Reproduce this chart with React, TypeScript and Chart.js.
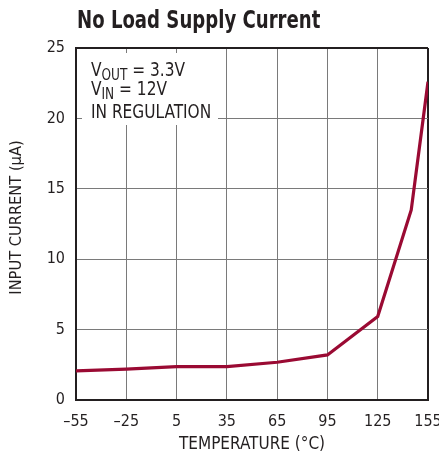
import React, { useEffect, useRef } from "react";
import { Chart, registerables } from "chart.js";

Chart.register(...registerables);

const temperatures = [-55, -25, 5, 35, 65, 95, 125, 145, 155];
const inputCurrent = [2.07, 2.19, 2.37, 2.37, 2.68, 3.2, 5.93, 13.5, 22.6];
const xTickValues = [-55, -25, 5, 35, 65, 95, 125, 155];
const yTickValues = [0, 5, 10, 15, 20, 25];

const TITLE = "No Load Supply Current";
const X_TITLE = "TEMPERATURE (°C)";
const Y_TITLE = "INPUT CURRENT (µA)";
const NOTE_LINES = [
  { main: "V", sub: "OUT", rest: " = 3.3V" },
  { main: "V", sub: "IN", rest: " = 12V" },
  { main: "IN REGULATION", sub: "", rest: "" },
];

const FONT = "'DejaVu Sans Condensed', 'Liberation Sans Narrow', sans-serif";
const TEXT = "#231f20";
const GRID = "#7a7a7a";
const LINE = "#9a0a33";

const fmt = (v: number) => (v < 0 ? "\u2013" + Math.abs(v) : String(v));

const overlayPlugin = {
  id: "overlay",
  beforeDatasetsDraw(chart: any) {
    const { ctx, chartArea } = chart;
    const ca = chartArea;
    ctx.save();
    ctx.fillStyle = "#ffffff";
    ctx.fillRect(ca.left + 6, ca.top + 5, 218 - (ca.left + 6), 125 - (ca.top + 5));
    ctx.fillStyle = TEXT;
    ctx.textBaseline = "alphabetic";
    ctx.textAlign = "left";
    const baselines = [28, 47, 69.5];
    const sx = 0.9;
    NOTE_LINES.forEach((ln, i) => {
      ctx.save();
      ctx.translate(ca.left + 15, ca.top + baselines[i]);
      ctx.scale(sx, 1);
      let x = 0;
      ctx.font = `19px ${FONT}`;
      ctx.fillText(ln.main, x, 0);
      x += ctx.measureText(ln.main).width;
      if (ln.sub) {
        ctx.font = `15px ${FONT}`;
        ctx.fillText(ln.sub, x, 3.5);
        x += ctx.measureText(ln.sub).width;
      }
      if (ln.rest) {
        ctx.font = `19px ${FONT}`;
        ctx.fillText(ln.rest, x, 0);
      }
      ctx.restore();
    });
    ctx.restore();
  },
  afterDraw(chart: any) {
    const { ctx, chartArea } = chart;
    ctx.save();
    ctx.fillStyle = TEXT;
    ctx.textBaseline = "alphabetic";
    ctx.textAlign = "left";
    ctx.save();
    ctx.translate(chartArea.left + 1, 27.5);
    ctx.scale(0.805, 1);
    ctx.font = `bold 25px ${FONT}`;
    ctx.fillText(TITLE, 0, 0);
    ctx.restore();
    // y axis title
    ctx.save();
    ctx.translate(17, 217.5);
    ctx.rotate(-Math.PI / 2);
    ctx.textAlign = "center";
    ctx.textBaseline = "middle";
    ctx.font = `16.3px ${FONT}`;
    ctx.fillText(Y_TITLE, 0, 0);
    ctx.restore();
    ctx.restore();
  },
};

export default function App() {
  const ref = useRef<HTMLCanvasElement>(null);
  useEffect(() => {
    document.body.style.margin = "0";
    const canvas = ref.current!;
    const edgeColor = (ctx: any, n: number) =>
      ctx.index === 0 || ctx.index === n - 1 ? TEXT : GRID;
    const edgeWidth = (ctx: any, n: number) =>
      ctx.index === 0 || ctx.index === n - 1 ? 2 : 1;
    const chart = new Chart(canvas, {
      type: "line",
      data: {
        datasets: [
          {
            data: temperatures.map((t, i) => ({ x: t, y: inputCurrent[i] })),
            borderColor: LINE,
            borderWidth: 3.2,
            pointRadius: 0,
            tension: 0,
            fill: false,
          },
        ],
      },
      options: {
        responsive: false,
        animation: false,
        events: [],
        layout: { padding: { top: 48, right: 11, bottom: 0, left: 0 } },
        plugins: { legend: { display: false }, tooltip: { enabled: false }, title: { display: false } },
        scales: {
          x: {
            type: "linear",
            min: -55,
            max: 155,
            afterFit: (s: any) => {
              s.height = 58;
              s.paddingLeft = 0;
              s.paddingRight = 0;
            },
            afterBuildTicks: (s: any) => {
              s.ticks = xTickValues.map((v) => ({ value: v }));
            },
            ticks: {
              color: TEXT,
              padding: 12,
              maxRotation: 0,
              autoSkip: false,
              font: { family: FONT, size: 16 },
              callback: (v: any) => fmt(Number(v)),
            },
            grid: {
              drawTicks: false,
              color: (c: any) => edgeColor(c, xTickValues.length),
              lineWidth: (c: any) => edgeWidth(c, xTickValues.length),
            },
            border: { display: true, color: TEXT, width: 2 },
            title: {
              display: true,
              text: X_TITLE,
              color: TEXT,
              font: { family: FONT, size: 17, lineHeight: 1.2 },
              padding: { top: 0, bottom: 3 },
            },
          },
          y: {
            type: "linear",
            min: 0,
            max: 25,
            afterFit: (s: any) => {
              s.width = 76;
              s.paddingTop = 0;
              s.paddingBottom = 0;
            },
            afterBuildTicks: (s: any) => {
              s.ticks = yTickValues.map((v) => ({ value: v }));
            },
            ticks: {
              color: TEXT,
              padding: 11,
              font: { family: FONT, size: 16 },
              callback: (v: any) => fmt(Number(v)),
            },
            grid: {
              drawTicks: false,
              color: (c: any) => edgeColor(c, yTickValues.length),
              lineWidth: (c: any) => edgeWidth(c, yTickValues.length),
            },
            border: { display: true, color: TEXT, width: 2 },
            title: { display: false },
          },
        },
      },
      plugins: [overlayPlugin],
    } as any);
    return () => chart.destroy();
  }, []);
  return (
    <div style={{ position: "absolute", left: 0, top: 0, width: 439, height: 458 }}>
      <canvas ref={ref} width={439} height={458} style={{ width: 439, height: 458 }} />
    </div>
  );
}
